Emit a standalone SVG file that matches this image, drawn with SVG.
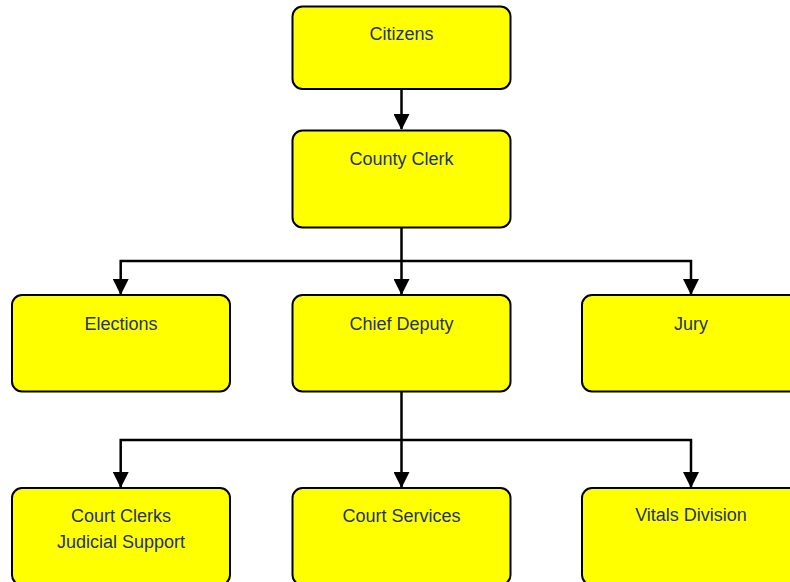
<svg xmlns="http://www.w3.org/2000/svg" width="790" height="582" viewBox="0 0 790 582">
<style>
.box{fill:#ffff00;stroke:#000;stroke-width:2}
.lbl{font-family:"Liberation Sans",Arial,sans-serif;font-size:18px;fill:#1f3466;text-anchor:middle}
.con{fill:none;stroke:#000;stroke-width:2.5}
</style>
<defs>
<marker id="ah" markerUnits="userSpaceOnUse" markerWidth="16" markerHeight="16" viewBox="0 0 16 16" refX="15" refY="8" orient="auto">
<path d="M0,0 L16,8 L0,16 Z" fill="#000"/>
</marker>
</defs>
<rect width="790" height="582" fill="#fff"/>
<g id="connectors">
<path class="con" d="M401.5,89 V129" marker-end="url(#ah)"/>
<path class="con" d="M401.5,228 V294" marker-end="url(#ah)"/>
<path class="con" d="M401.5,261 H120.7 V294" marker-end="url(#ah)"/>
<path class="con" d="M401.5,261 H691 V294" marker-end="url(#ah)"/>
<path class="con" d="M401.5,391 V487" marker-end="url(#ah)"/>
<path class="con" d="M401.5,440 H120.7 V487" marker-end="url(#ah)"/>
<path class="con" d="M401.5,440 H691 V487" marker-end="url(#ah)"/>
</g>
<g id="citizens">
<rect class="box" x="292.5" y="6.5" width="218" height="82.5" rx="10"/>
<text class="lbl" x="401.5" y="40">Citizens</text>
</g>
<g id="county-clerk">
<rect class="box" x="292.5" y="130.5" width="218" height="97" rx="10"/>
<text class="lbl" x="401.5" y="165">County Clerk</text>
</g>
<g id="elections">
<rect class="box" x="12" y="295" width="218" height="96.5" rx="10"/>
<text class="lbl" x="121" y="330">Elections</text>
</g>
<g id="chief-deputy">
<rect class="box" x="292.5" y="295" width="218" height="96.5" rx="10"/>
<text class="lbl" x="401.5" y="330">Chief Deputy</text>
</g>
<g id="jury">
<rect class="box" x="582" y="295" width="218" height="96.5" rx="10"/>
<text class="lbl" x="691" y="330">Jury</text>
</g>
<g id="court-clerks">
<rect class="box" x="12" y="488" width="218" height="97" rx="10"/>
<text class="lbl" x="121" y="522">Court Clerks</text>
<text class="lbl" x="121" y="548">Judicial Support</text>
</g>
<g id="court-services">
<rect class="box" x="292.5" y="488" width="218" height="97" rx="10"/>
<text class="lbl" x="401.5" y="522">Court Services</text>
</g>
<g id="vitals-division">
<rect class="box" x="582" y="488" width="218" height="97" rx="10"/>
<text class="lbl" x="691" y="521">Vitals Division</text>
</g>
</svg>
